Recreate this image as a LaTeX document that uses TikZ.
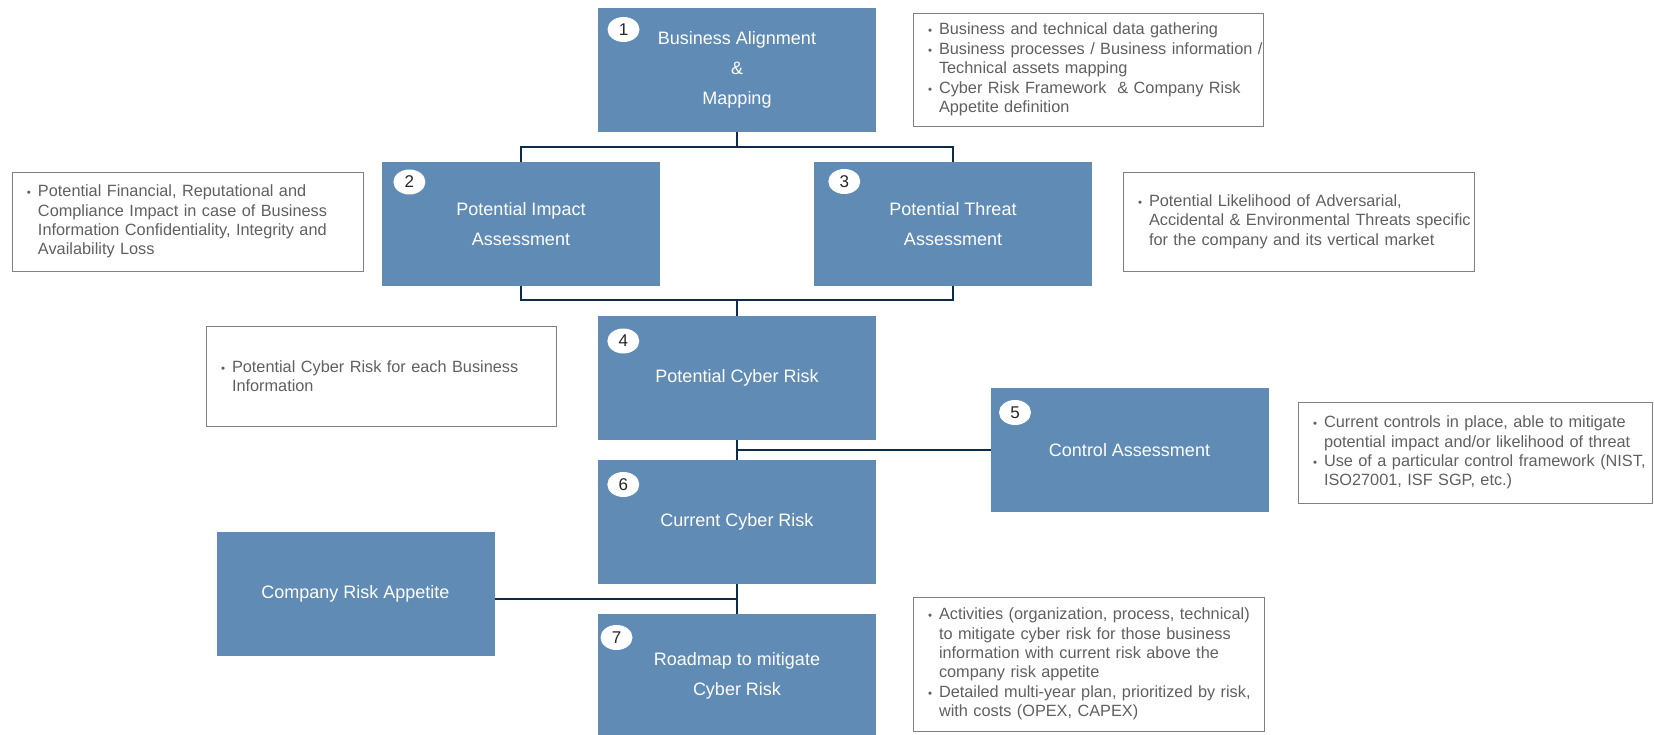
\documentclass[tikz,border=0pt]{standalone}
\usepackage{fontspec}
\setmainfont{Liberation Sans}
\usetikzlibrary{calc,shapes.geometric}
\definecolor{boxblue}{RGB}{95,139,180}
\definecolor{linkc}{RGB}{14,43,72}
\definecolor{notetext}{RGB}{96,96,96}
\definecolor{noteframe}{RGB}{128,128,128}
\newcommand{\nbul}{\hspace*{15pt}\makebox[11pt][l]{\fontsize{11.5}{10}\selectfont\textbullet}}
\newcommand{\ncont}{\hspace*{26pt}}
\tikzset{
  stepbox/.style={fill=boxblue, draw=none, text=white, minimum width=278pt, minimum height=124pt,
    inner sep=0pt, outer sep=0pt, align=center, font=\fontsize{18}{30}\selectfont},
  numbadge/.style={ellipse, fill=white, draw=none, minimum width=32pt, minimum height=25pt,
    inner sep=0pt, text=black!85, font=\fontsize{17}{17}\selectfont},
  notebox/.style={draw=noteframe, line width=0.9pt, fill=white, text=notetext, inner sep=0pt,
    outer sep=0pt, align=left, font=\fontsize{16.3}{19.4}\selectfont},
  link/.style={draw=linkc, line width=2pt}
}
\begin{document}
\begin{tikzpicture}[x=1pt,y=-1pt]
\useasboundingbox (0,0) rectangle (1654,735);
\fill[white] (0,0) rectangle (1654,735);

% main boxes
\node[stepbox] (b1) at (737,70) {Business Alignment\\\&\\Mapping};
\node[stepbox] (b2) at (521,224) {Potential Impact\\Assessment};
\node[stepbox] (b3) at (953,224) {Potential Threat\\Assessment};
\node[stepbox] (b4) at (737,378) {Potential Cyber Risk};
\node[stepbox] (b5) at (1129.5,450) {Control Assessment};
\node[stepbox] (b6) at (737,522) {Current Cyber Risk};
\node[stepbox] (cra) at (355.5,594) {Company Risk Appetite};
\node[stepbox] (b7) at (737,676) {Roadmap to mitigate\\Cyber Risk};

% number badges
\node[numbadge] (n1) at (623.5,29.5) {1};
\node[numbadge] (n2) at (409.4,182) {2};
\node[numbadge] (n3) at (844.3,181.5) {3};
\node[numbadge] (n4) at (623.3,341) {4};
\node[numbadge] (n5) at (1015,412.5) {5};
\node[numbadge] (n6) at (623.3,484.5) {6};
\node[numbadge] (n7) at (616.5,637.5) {7};

% connectors
\coordinate (j1) at ($(b1.south)+(0,15.5)$);
\draw[link] (b1.south) -- (j1);
\draw[link] (b2.north) |- (j1) -| (b3.north);
\coordinate (j2) at ($(b4.north)+(0,-15.5)$);
\draw[link] (b2.south) |- (j2) -| (b3.south);
\draw[link] (j2) -- (b4.north);
\draw[link] (b4.south) -- (b6.north);
\coordinate (j3) at ($(b4.south)!0.5!(b6.north)$);
\draw[link] (j3) -- (b5.west);
\draw[link] (b6.south) -- (b7.north);
\coordinate (j4) at ($(b6.south)!0.5!(b7.north)$);
\draw[link] (j4) -- (j4 -| cra.east);

% notes
\node[notebox, minimum width=350pt, text width=350pt, minimum height=113pt] (t1) at (1088,69.5) {%
\nbul Business and technical data gathering\\
\nbul Business processes / Business information /\\
\ncont Technical assets mapping\\
\nbul Cyber Risk Framework \ \& Company Risk\\
\ncont Appetite definition};

\node[notebox, minimum width=351pt, text width=351pt, minimum height=99pt] (t2) at (187.5,221.5) {%
\nbul Potential Financial, Reputational and\\
\ncont Compliance Impact in case of Business\\
\ncont Information Confidentiality, Integrity and\\
\ncont Availability Loss};

\node[notebox, minimum width=351pt, text width=351pt, minimum height=99pt] (t3) at (1298.5,221.5) {%
\nbul Potential Likelihood of Adversarial,\\
\ncont Accidental \& Environmental Threats specific\\
\ncont for the company and its vertical market};

\node[notebox, minimum width=350pt, text width=350pt, minimum height=100pt] (t4) at (381,376) {%
\nbul Potential Cyber Risk for each Business\\
\ncont Information};

\node[notebox, minimum width=354pt, text width=354pt, minimum height=101pt] (t5) at (1475,452.5) {%
\nbul Current controls in place, able to mitigate\\
\ncont potential impact and/or likelihood of threat\\
\nbul Use of a particular control framework (NIST,\\
\ncont ISO27001, ISF SGP, etc.)};

\node[notebox, minimum width=351pt, text width=351pt, minimum height=134pt] (t7) at (1088.5,664) {%
\nbul Activities (organization, process, technical)\\
\ncont to mitigate cyber risk for those business\\
\ncont information with current risk above the\\
\ncont company risk appetite\\
\nbul Detailed multi-year plan, prioritized by risk,\\
\ncont with costs (OPEX, CAPEX)};
\end{tikzpicture}
\end{document}
